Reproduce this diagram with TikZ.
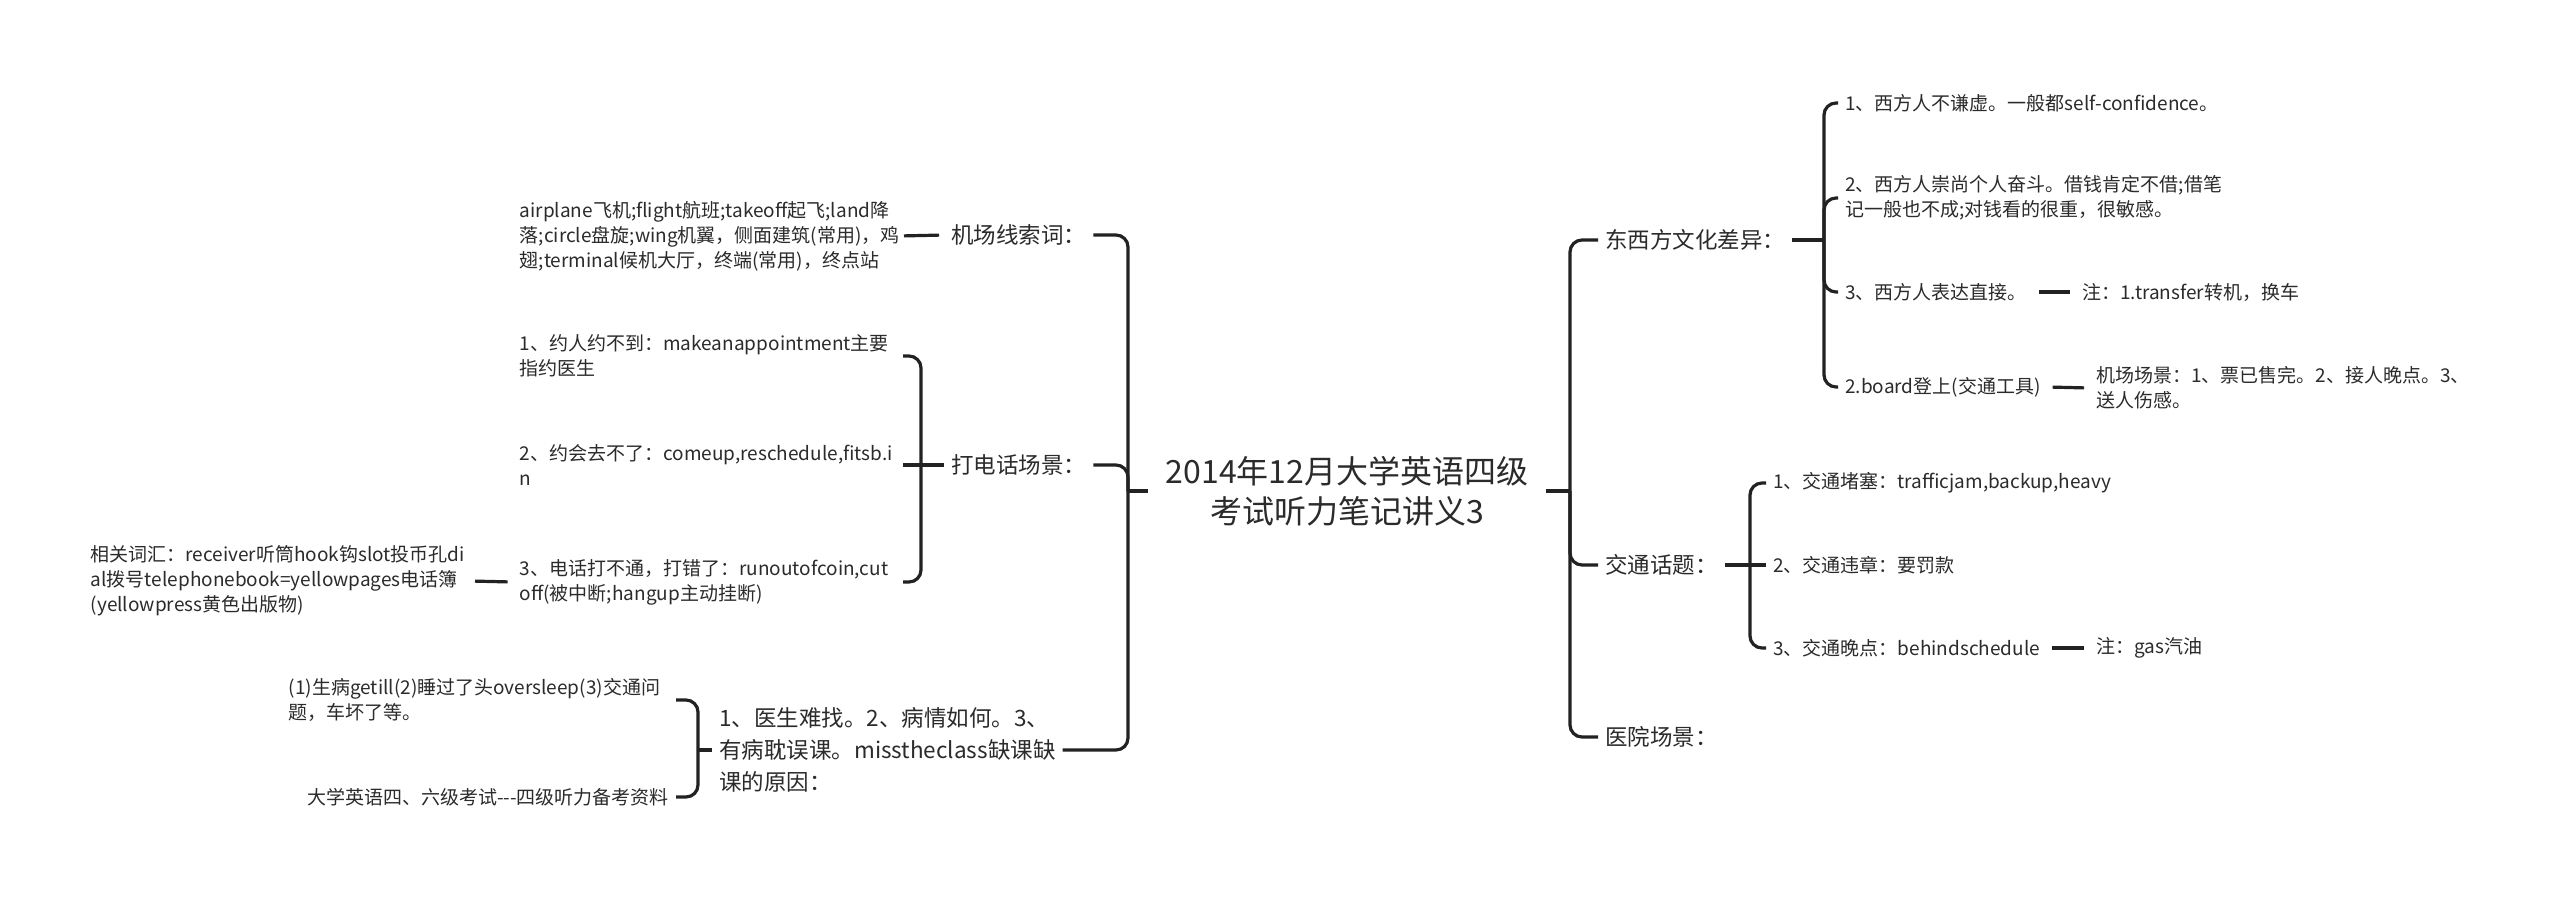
\documentclass[tikz,border=0pt]{standalone}
\usepackage{fontspec}
\setmainfont{Noto Sans CJK SC}
\definecolor{txt}{HTML}{2B2B2B}
\definecolor{ln}{HTML}{222222}
\tikzset{
  base/.style={inner xsep=7pt, inner ysep=2pt, text=txt, align=left},
  small/.style={base, font=\fontsize{19}{25}\selectfont},
  mid/.style={base, font=\fontsize{22.5}{32}\selectfont},
  rootn/.style={font=\fontsize{32}{40}\selectfont, align=center, inner xsep=18pt, text=txt},
  conn/.style={draw=ln, line width=3.2pt, rounded corners=12pt},
  short/.style={draw=ln, line width=3.2pt, shorten <=5pt, shorten >=5pt}
}
\begin{document}
\begin{tikzpicture}[x=1pt,y=-1pt]
\fill[white] (0,0) rectangle (2560,898);
\useasboundingbox (0,0) rectangle (2560,898);

% root
\node[rootn] (root) at (1347,491) {2014年12月大学英语四级\\考试听力笔记讲义3};

% left main branches
\node[mid, anchor=west] (jc) at (944,235) {机场线索词：};
\node[mid, anchor=west] (dh) at (944,465) {打电话场景：};
\node[mid, anchor=west] (yi) at (712,750) {1、医生难找。2、病情如何。3、\\有病耽误课。misstheclass缺课缺\\课的原因：};

% left leaves
\node[small, anchor=east, text width=372pt] (air) at (899,236) {airplane飞机;flight航班;takeoff起飞;land降\\落;circle盘旋;wing机翼，侧面建筑(常用)，鸡\\翅;terminal候机大厅，终端(常用)，终点站};
\node[small, anchor=east, text width=376pt] (d1) at (903,356) {1、约人约不到：makeanappointment主要\\指约医生};
\node[small, anchor=east, text width=376pt] (d2) at (903,465) {2、约会去不了：comeup,reschedule,fitsb.i\\n};
\node[small, anchor=east, text width=376pt] (d3) at (903,582) {3、电话打不通，打错了：runoutofcoin,cut\\off(被中断;hangup主动挂断)};
\node[small, anchor=east, text width=372pt] (voc) at (470,581) {相关词汇：receiver听筒hook钩slot投币孔di\\al拨号telephonebook=yellowpages电话簿\\(yellowpress黄色出版物)};
\node[small, anchor=east, text width=380pt] (y1) at (676,700) {(1)生病getill(2)睡过了头oversleep(3)交通问\\题，车坏了等。};
\node[small, anchor=east] (y2) at (676,797) {大学英语四、六级考试-{}-{}-四级听力备考资料};

% right main branches
\node[mid, anchor=west] (dx) at (1598,240) {东西方文化差异：};
\node[mid, anchor=west] (jt) at (1598,565) {交通话题：};
\node[mid, anchor=west] (yy) at (1598,737) {医院场景：};

% right leaves
\node[small, anchor=west] (e1) at (1838,103) {1、西方人不谦虚。一般都self-confidence。};
\node[small, anchor=west] (e2) at (1838,198) {2、西方人崇尚个人奋斗。借钱肯定不借;借笔\\记一般也不成;对钱看的很重，很敏感。};
\node[small, anchor=west] (e3) at (1838,292) {3、西方人表达直接。};
\node[small, anchor=west] (e4) at (1838,387) {2.board登上(交通工具)};
\node[small, anchor=west] (n3) at (2075,292) {注：1.transfer转机，换车};
\node[small, anchor=west] (n4) at (2089,388) {机场场景：1、票已售完。2、接人晚点。3、\\送人伤感。};

\node[small, anchor=west] (t1) at (1766,483) {1、交通堵塞：trafficjam,backup,heavy};
\node[small, anchor=west] (t2) at (1766,565) {2、交通违章：要罚款};
\node[small, anchor=west] (t3) at (1766,648) {3、交通晚点：behindschedule};
\node[small, anchor=west] (n5) at (2089,648) {注：gas汽油};

% trunk / bracket points
\coordinate (LT) at (1128,491);
\coordinate (RT) at (1570,491);
\coordinate (B1) at (921,465);
\coordinate (BY) at (698,750);
\coordinate (BX) at (1824,240);
\coordinate (BT) at (1750,565);

% left connectors
\draw[conn] (root.west) -- (LT);
\draw[conn] (LT) |- (jc.east);
\draw[conn] (LT) |- (dh.east);
\draw[conn] (LT) |- (yi.east);
\draw[short] (jc.west) -- (air.east);
\draw[conn] (dh.west) -- (B1);
\draw[conn] (B1) |- (d1.east);
\draw[conn] (B1) -- (d2.east);
\draw[conn] (B1) |- (d3.east);
\draw[short] (d3.west) -- (voc.east);
\draw[conn] (yi.west) -- (BY);
\draw[conn] (BY) |- (y1.east);
\draw[conn] (BY) |- (y2.east);

% right connectors
\draw[conn] (root.east) -- (RT);
\draw[conn] (RT) |- (dx.west);
\draw[conn] (RT) |- (jt.west);
\draw[conn] (RT) |- (yy.west);
\draw[conn] (dx.east) -- (BX);
\draw[conn] (BX) |- (e1.west);
\draw[conn] (BX) |- (e2.west);
\draw[conn] (BX) |- (e3.west);
\draw[conn] (BX) |- (e4.west);
\draw[short] (e3.east) -- (n3.west);
\draw[short] (e4.east) -- (n4.west);
\draw[conn] (jt.east) -- (BT);
\draw[conn] (BT) |- (t1.west);
\draw[conn] (BT) -- (t2.west);
\draw[conn] (BT) |- (t3.west);
\draw[short] (t3.east) -- (n5.west);
\end{tikzpicture}
\end{document}
